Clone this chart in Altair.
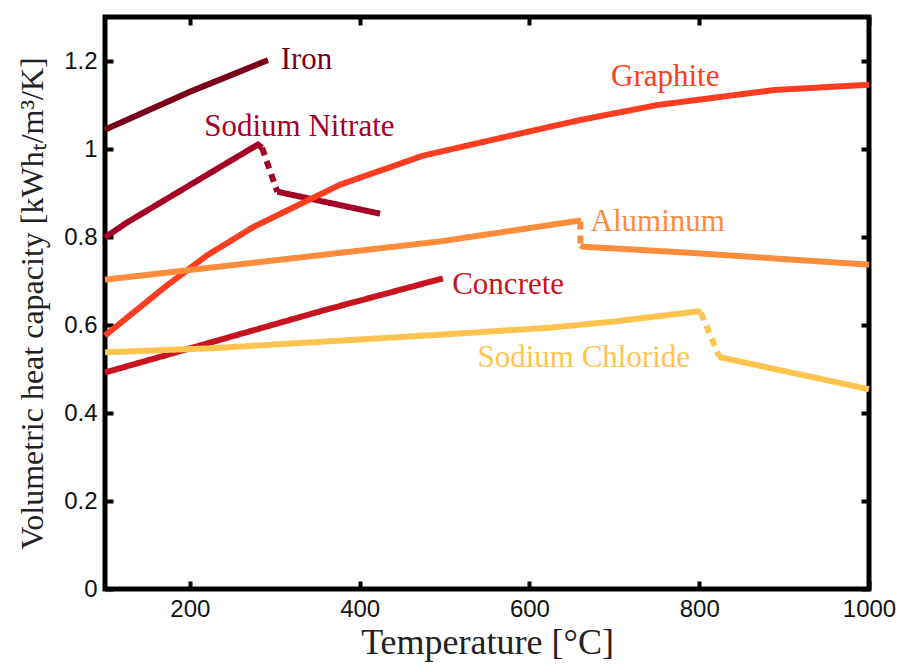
import altair as alt
import pandas as pd

# ---- data ----
series_names = ["Iron", "Sodium Nitrate", "Graphite", "Aluminum", "Concrete", "Sodium Chloride"]
series_colors = ["#7a0018", "#a50026", "#fc3d22", "#fd8d3c", "#c8141e", "#fec44f"]

# each series: list of segments (dashed flag, temps, values)
iron = [(False, [100, 200, 292], [1.044, 1.13, 1.202])]
sodium_nitrate = [
    (False, [100, 126, 280, 285], [0.799, 0.833, 1.010, 1.003]),
    (True, [285, 303], [1.003, 0.903]),
    (False, [303, 424], [0.903, 0.853]),
]
graphite = [(False,
             [100, 173, 220, 275, 377, 475, 600, 660, 751, 888, 1000],
             [0.576, 0.690, 0.758, 0.823, 0.919, 0.985, 1.040, 1.066, 1.100, 1.134, 1.146])]
aluminum = [
    (False, [100, 495, 658, 660], [0.703, 0.790, 0.837, 0.835]),
    (True, [660, 660], [0.835, 0.781]),
    (False, [660, 663, 790, 1000], [0.781, 0.778, 0.764, 0.737]),
]
concrete = [(False, [100, 357, 498], [0.492, 0.633, 0.706])]
sodium_chloride = [
    (False, [100, 224, 495, 625, 700, 799, 802], [0.538, 0.547, 0.578, 0.594, 0.608, 0.631, 0.628]),
    (True, [802, 823], [0.628, 0.530]),
    (False, [823, 826, 1000], [0.530, 0.526, 0.454]),
]
all_series = [iron, sodium_nitrate, graphite, aluminum, concrete, sodium_chloride]

label_text = ["Iron", "Sodium Nitrate", "Graphite", "Aluminum", "Concrete", "Sodium Chloride"]
label_x = [307, 329, 760, 672, 509, 664]
label_y = [1.202, 1.050, 1.164, 0.835, 0.690, 0.524]
label_align = ["left", "center", "center", "left", "left", "center"]

x_ticks = [200, 400, 600, 800, 1000]
y_ticks = [0, 0.2, 0.4, 0.6, 0.8, 1.0, 1.2]

# ---- build tables ----
rows = []
i = 0
for name, segs in zip(series_names, all_series):
    for k, (dashed, xs, ys) in enumerate(segs):
        for xv, yv in zip(xs, ys):
            rows.append({"series": name, "seg": f"{name}-{k}", "dashed": "dash" if dashed else "solid",
                         "T": xv, "V": yv, "i": i})
            i += 1
lines_df = pd.DataFrame(rows)
labels_df = pd.DataFrame({"label": label_text, "T": label_x, "V": label_y,
                          "align": label_align, "series": series_names})

serif = "Liberation Serif"
sans = "Liberation Sans"

xscale = alt.Scale(domain=[100, 1000], nice=False, zero=False)
yscale = alt.Scale(domain=[0, 1.3], nice=False)
cscale = alt.Scale(domain=series_names, range=series_colors)

x_axis = alt.Axis(values=x_ticks, format="d", orient="bottom", domain=False, grid=False, tickSize=8,
                  tickWidth=4, tickColor="black", offset=-8, labelPadding=8, labelFont=sans,
                  labelFontSize=24, labelColor="#111", labelFlush=False, title="Temperature [°C]",
                  titleFont=serif, titleFontSize=36, titleFontWeight="normal", titleColor="#222",
                  titlePadding=4)
y_axis = alt.Axis(values=y_ticks, format=".1~f", orient="left", domain=False, grid=False, tickSize=8,
                  tickWidth=4, tickColor="black", offset=-8, labelPadding=8, labelFont=sans,
                  labelFontSize=24, labelColor="#111", labelFlush=False,
                  title="Volumetric heat capacity [kWhₜ/m³/K]",
                  titleFont=serif, titleFontSize=32, titleFontWeight="normal", titleColor="#222",
                  titlePadding=14)

lines = alt.Chart(lines_df).mark_line(strokeWidth=6, strokeCap="butt", strokeJoin="miter").encode(
    x=alt.X("T:Q", scale=xscale, axis=x_axis),
    y=alt.Y("V:Q", scale=yscale, axis=y_axis),
    color=alt.Color("series:N", scale=cscale, legend=None),
    strokeDash=alt.StrokeDash("dashed:N", scale=alt.Scale(domain=["solid", "dash"], range=[[1, 0], [8, 6]]),
                              legend=None),
    detail="seg:N",
    order="i:Q",
)

mirror = alt.Chart(lines_df).mark_point(opacity=0).encode(
    x=alt.X("T:Q", scale=xscale, axis=alt.Axis(values=x_ticks, orient="top", labels=False, title=None,
                                                domain=False, grid=False, tickSize=8, tickWidth=4,
                                                tickColor="black", offset=-8)),
    y=alt.Y("V:Q", scale=yscale, axis=alt.Axis(values=y_ticks, orient="right", labels=False, title=None,
                                                domain=False, grid=False, tickSize=8, tickWidth=4,
                                                tickColor="black", offset=-8)),
)


def text_layer(align):
    return alt.Chart(labels_df).transform_filter(alt.datum.align == align).mark_text(
        font=serif, fontSize=31, baseline="middle", align=align).encode(
        x=alt.X("T:Q", scale=xscale, axis=None),
        y=alt.Y("V:Q", scale=yscale, axis=None),
        text="label:N",
        color=alt.Color("series:N", scale=cscale, legend=None),
    )


chart = alt.layer(lines, mirror, text_layer("left"), text_layer("center")).resolve_axis(
    x="independent", y="independent"
).properties(
    width=764, height=572,
    autosize=alt.AutoSizeParams(type="none"),
    padding={"left": 105, "top": 17, "right": 33, "bottom": 81},
).configure_view(stroke="black", strokeWidth=5)

chart.save("out.html", embed_options={"renderer": "svg", "actions": False})
